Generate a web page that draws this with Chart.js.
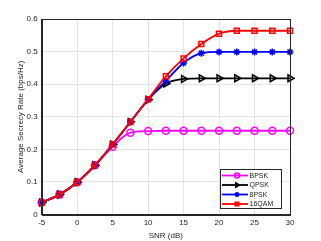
<!DOCTYPE html>
<html>
<head>
<meta charset="utf-8">
<script src="https://cdn.jsdelivr.net/npm/chart.js@4.4.1/dist/chart.umd.min.js"></script>
<style>
  html, body { margin: 0; padding: 0; background: #fff; }
  #wrap { width: 321px; height: 241px; }
</style>
</head>
<body>
<div id="wrap"><canvas id="grafico"></canvas></div>
<script>
// ---------- dados ----------
const snr = [-5, -2.5, 0, 2.5, 5, 7.5, 10, 12.5, 15, 17.5, 20, 22.5, 25, 27.5, 30];
const bpsk  = [0.037, 0.061, 0.099, 0.151, 0.208, 0.251, 0.256, 0.257, 0.257, 0.257, 0.257, 0.257, 0.257, 0.257, 0.257];
const qpsk  = [0.037, 0.061, 0.099, 0.151, 0.215, 0.284, 0.352, 0.402, 0.416, 0.418, 0.418, 0.418, 0.418, 0.418, 0.418];
const psk8  = [0.037, 0.061, 0.099, 0.151, 0.215, 0.284, 0.353, 0.410, 0.465, 0.495, 0.499, 0.499, 0.499, 0.499, 0.499];
const qam16 = [0.037, 0.061, 0.099, 0.151, 0.215, 0.284, 0.354, 0.424, 0.479, 0.523, 0.555, 0.564, 0.564, 0.564, 0.564];
const yTicks = [0, 0.1, 0.2, 0.3, 0.4, 0.5, 0.6];
const xTicks = [-5, 0, 5, 10, 15, 20, 25, 30];

const fonte = "'Liberation Sans', Arial, sans-serif";
const corEixo = '#262626';

function pontos(ys) {
    return snr.map((x, i) => ({ x: x, y: ys[i] }));
}

const series = [
    { label: 'BPSK',  data: bpsk,  cor: '#ff00ff', estilo: 'circle',   rot: 0,  ordem: 3, raio: 3.5 },
    { label: 'QPSK',  data: qpsk,  cor: '#000000', estilo: 'triangle', rot: 90, ordem: 2, raio: 4 },
    { label: '8PSK',  data: psk8,  cor: '#0000ff', estilo: 'star',     rot: 0,  ordem: 1, raio: 3.5 },
    { label: '16QAM', data: qam16, cor: '#ff0000', estilo: 'rect',     rot: 0,  ordem: 0, raio: 3.5 }
];

// ---------- legenda e moldura ----------
const molduraLegenda = {
    id: 'molduraLegenda',
    afterDraw(chart) {
        const ctx = chart.ctx;
        const a = chart.chartArea;
        ctx.save();
        ctx.strokeStyle = corEixo;
        ctx.lineWidth = 1;
        ctx.strokeRect(Math.round(a.left) + 0.5, Math.round(a.top) + 0.5,
            Math.round(a.right - a.left), Math.round(a.bottom - a.top));

        // caixa da legenda
        const bx = 220, by = 169, bw = 61, bh = 39;
        ctx.fillStyle = '#fff';
        ctx.fillRect(bx, by, bw, bh);
        ctx.strokeRect(bx + 0.5, by + 0.5, bw, bh);

        series.forEach((s, i) => {
            const yy = by + 6.5 + i * 9.5;
            ctx.strokeStyle = s.cor;
            ctx.lineWidth = 1.8;
            ctx.beginPath();
            ctx.moveTo(bx + 2, yy);
            ctx.lineTo(bx + 28, yy);
            ctx.stroke();
            ctx.lineWidth = 1.5;
            ctx.fillStyle = s.estilo === 'star' ? s.cor : 'rgba(0,0,0,0)';
            Chart.helpers.drawPoint(ctx, {
                pointStyle: s.estilo, rotation: s.rot, radius: 2.5,
                borderWidth: 1.5
            }, bx + 17, yy);
            ctx.fillStyle = corEixo;
            ctx.font = '7px ' + fonte;
            ctx.textBaseline = 'middle';
            ctx.textAlign = 'left';
            ctx.fillText(s.label, bx + 29.5, yy + 0.5);
        });
        ctx.restore();
    }
};

// ---------- gráfico ----------
new Chart(document.getElementById('grafico'), {
    type: 'line',
    data: {
        datasets: series.map(s => ({
            label: s.label,
            data: pontos(s.data),
            borderColor: s.cor,
            backgroundColor: 'rgba(0,0,0,0)',
            borderWidth: 1.8,
            pointStyle: s.estilo,
            rotation: s.rot,
            pointRadius: s.raio,
            pointBorderWidth: 1.5,
            pointBorderColor: s.cor,
            pointBackgroundColor: s.estilo === 'star' ? s.cor : 'rgba(0,0,0,0)',
            cubicInterpolationMode: 'monotone',
            order: s.ordem,
            clip: false
        }))
    },
    options: {
        responsive: true,
        maintainAspectRatio: false,
        animation: false,
        devicePixelRatio: 1,
        layout: { padding: { top: 19, right: 31, left: 16, bottom: 0 } },
        plugins: {
            legend: { display: false },
            tooltip: { enabled: false }
        },
        scales: {
            x: {
                type: 'linear',
                min: -5, max: 30,
                afterBuildTicks: ax => { ax.ticks = xTicks.map(v => ({ value: v })); },
                afterFit: ax => { ax.height = 26.5; },
                grid: { color: '#e3e3e3', drawTicks: false },
                border: { display: true, color: corEixo },
                ticks: { color: corEixo, font: { family: fonte, size: 8 }, padding: 3, maxRotation: 0 },
                title: { display: true, text: 'SNR (dB)', color: corEixo, font: { family: fonte, size: 8 }, padding: { top: 1, bottom: 0 } }
            },
            y: {
                min: 0, max: 0.6,
                afterBuildTicks: ax => { ax.ticks = yTicks.map(v => ({ value: v })); },
                afterFit: ax => { ax.width = 25.7; },
                grid: { color: '#e3e3e3', drawTicks: false },
                border: { display: true, color: corEixo },
                ticks: { color: corEixo, font: { family: fonte, size: 8 }, padding: 4, callback: v => String(Math.round(v * 10) / 10) },
                title: { display: true, text: 'Average Secrecy Rate (bps/Hz)', color: corEixo, font: { family: fonte, size: 8 }, padding: { top: 0, bottom: 2 } }
            }
        }
    },
    plugins: [molduraLegenda]
});
</script>
</body>
</html>
